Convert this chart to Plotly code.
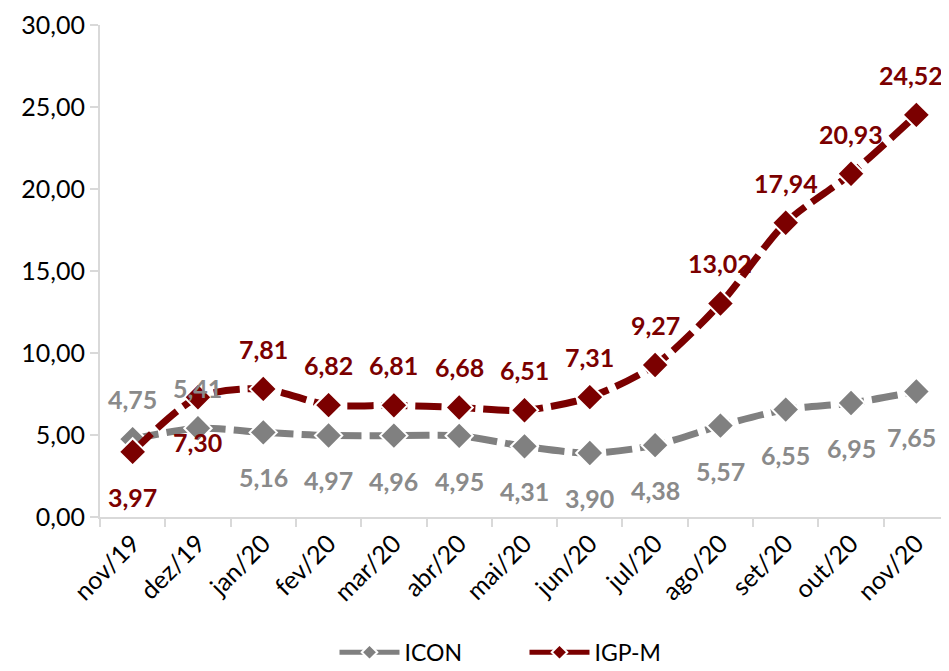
import plotly.graph_objects as go

categories = ["nov/19", "dez/19", "jan/20", "fev/20", "mar/20", "abr/20", "mai/20",
              "jun/20", "jul/20", "ago/20", "set/20", "out/20", "nov/20"]
icon = [4.75, 5.41, 5.16, 4.97, 4.96, 4.95, 4.31, 3.90, 4.38, 5.57, 6.55, 6.95, 7.65]
igpm = [3.97, 7.30, 7.81, 6.82, 6.81, 6.68, 6.51, 7.31, 9.27, 13.02, 17.94, 20.93, 24.52]
# label placement: +1 above the point, -1 below
icon_side = [1, 1, -1, -1, -1, -1, -1, -1, -1, -1, -1, -1, -1]
igpm_side = [-1, -1, 1, 1, 1, 1, 1, 1, 1, 1, 1, 1, 1]
y_ticks = [0, 5, 10, 15, 20, 25, 30]

GRAY = "#808080"
GRAY_LBL = "#8a8a8a"
RED = "#7b0000"
FONT = "Lato, 'Open Sans', sans-serif"
FS = 25

def fmt(v):
    return f"{v:.2f}".replace(".", ",")

fig = go.Figure()
for name, vals, color in [("ICON", icon, GRAY), ("IGP-M", igpm, RED)]:
    fig.add_trace(go.Scatter(
        x=categories, y=vals, name=name, mode="lines+markers",
        line=dict(color=color, width=7, dash="26px,8px", shape="spline", smoothing=0.8),
        marker=dict(symbol="diamond", size=21, color=color, line=dict(color="white", width=2)),
        cliponaxis=False,
    ))

annotations = []
n = len(categories)
for vals, sides, color in [(icon, icon_side, GRAY_LBL), (igpm, igpm_side, RED)]:
    for i, (c, v, s) in enumerate(zip(categories, vals, sides)):
        annotations.append(dict(
            x=c, y=v, text=f"<b>{fmt(v)}</b>", showarrow=False,
            yshift=40 if s > 0 else -45,
            xshift=-5 if i == n - 1 else 0,
            font=dict(family=FONT, size=FS, color=color),
            xanchor="center", yanchor="middle",
        ))

# page body has an 8px margin: figure is sized/offset to compensate
fig.update_layout(
    width=941, height=663,
    margin=dict(l=92, r=0, t=17, b=154, autoexpand=False),
    paper_bgcolor="white", plot_bgcolor="white",
    font=dict(family=FONT, size=FS, color="#000000"),
    annotations=annotations,
    showlegend=True,
    legend=dict(orientation="h", x=0.5, xanchor="center", y=-0.275, yanchor="middle",
                font=dict(family=FONT, size=23, color="#000000"),
                itemwidth=60, itemsizing="constant",
                entrywidth=115, entrywidthmode="pixels"),
)
fig.update_xaxes(
    type="category", range=[-0.5, 12.5], showgrid=False, automargin=False,
    showline=True, linecolor="#d9d9d9", linewidth=2,
    ticks="outside", ticklen=8, tickcolor="#d9d9d9", tickwidth=2,
    tickson="boundaries", tickangle=-45,
    tickfont=dict(family=FONT, size=FS, color="#000000"),
)
fig.update_yaxes(
    range=[0, 30], tickvals=y_ticks, ticktext=[fmt(v) for v in y_ticks],
    showgrid=False, zeroline=False, automargin=False,
    showline=True, linecolor="#d9d9d9", linewidth=2,
    ticks="outside", ticklen=8, tickcolor="#d9d9d9", tickwidth=2,
    tickfont=dict(family=FONT, size=FS, color="#000000"),
)

fig.write_html("out.html")
